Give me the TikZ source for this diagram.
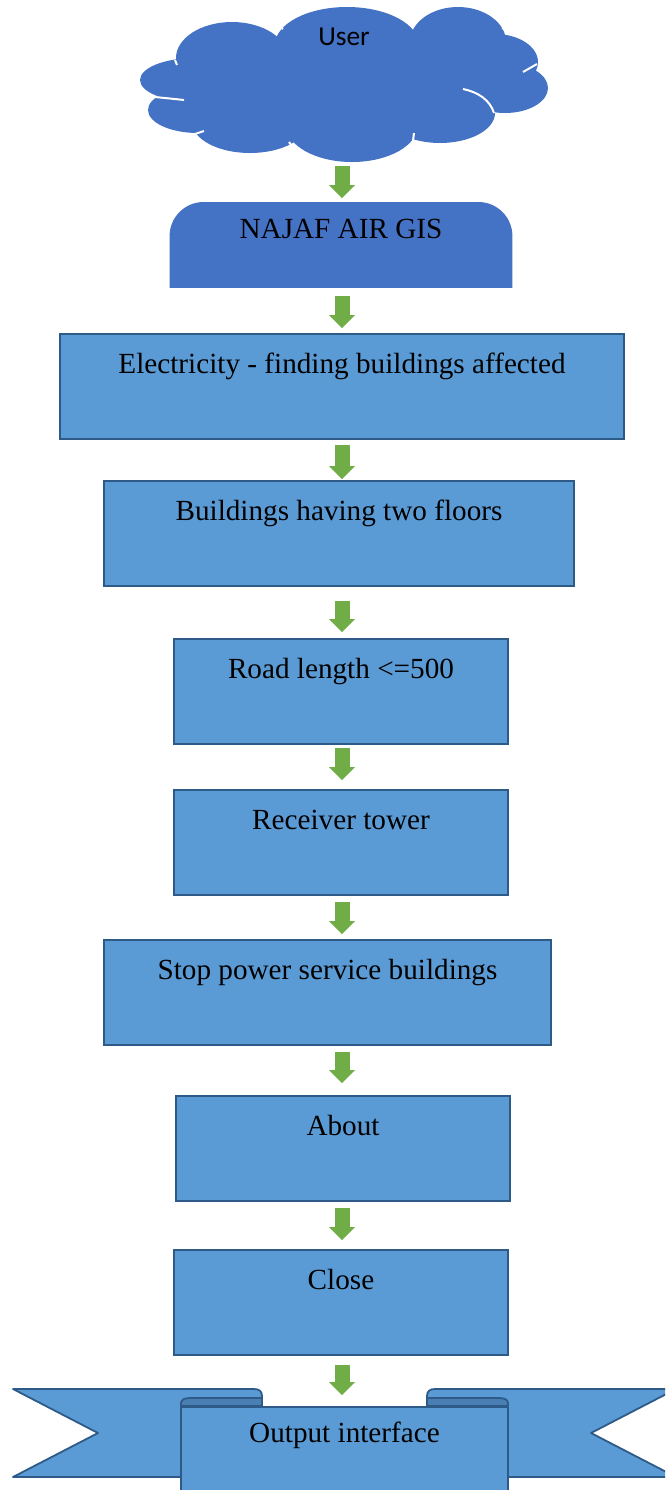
\documentclass[tikz,border=0pt]{standalone}
\usepackage{fontspec}
\setmainfont{Liberation Serif}
\newfontfamily\userfont{Carlito}
\usetikzlibrary{arrows.meta,backgrounds}

\definecolor{cloudblue}{HTML}{4472C4}
\definecolor{boxfill}{HTML}{5B9BD5}
\definecolor{boxline}{HTML}{2E5A88}
\definecolor{rollfill}{HTML}{4A7FB3}
\definecolor{arrowgreen}{HTML}{70AD47}

\tikzset{
  boxfont/.style={font=\fontsize{14.6}{17}\selectfont},
  stepbox/.style={boxfont, draw=boxline, fill=boxfill, line width=0.9pt,
    inner ysep=0pt, text height=20pt, text depth=32.5pt},
  flowarrow/.style={draw=arrowgreen, line width=7.5pt,
    -{Triangle[width=13pt,length=6.5pt,line width=0pt]}},
  flowlink/.style 2 args={flowarrow, shorten <=#1, shorten >=#2},
  cloudgap/.style={draw=white, line width=1pt},
  ribbon/.style={draw=boxline, fill=boxfill, line width=0.9pt, line join=round},
}

\begin{document}
\begin{tikzpicture}[x=0.5pt,y=-0.5pt]
  \useasboundingbox (0,0) rectangle (665,1490);
  \clip (0,0) rectangle (665,1490);
  \coordinate (axis) at (342,0);

  % cloud
  \fill[cloudblue] (345,85) ellipse [x radius=75pt, y radius=22.5pt];
  \fill[cloudblue] (232,58) ellipse [x radius=28pt, y radius=18pt];
  \fill[cloudblue] (347,45) ellipse [x radius=36pt, y radius=19pt];
  \fill[cloudblue] (458,42) ellipse [x radius=24pt, y radius=17.5pt];
  \fill[cloudblue] (495,62) ellipse [x radius=21.5pt, y radius=14pt];
  \fill[cloudblue] (505,88) ellipse [x radius=21.5pt, y radius=12.5pt];
  \fill[cloudblue] (440,113) ellipse [x radius=27.5pt, y radius=15pt];
  \fill[cloudblue] (352,125) ellipse [x radius=33pt, y radius=18.5pt];
  \fill[cloudblue] (250,122) ellipse [x radius=29pt, y radius=15.5pt];
  \fill[cloudblue] (198,110) ellipse [x radius=25pt, y radius=11.5pt];
  \fill[cloudblue] (195,80) ellipse [x radius=27.5pt, y radius=11pt];
  \draw[cloudgap] (155,97) .. controls (165,98) and (175,99) .. (184,100);
  \draw[cloudgap] (195,134) -- (204,131);
  \draw[cloudgap] (289,142) .. controls (291,145) and (293,148) .. (297,151);
  \draw[cloudgap] (414,133) -- (413,141);
  \draw[cloudgap] (463,89) .. controls (478,92) and (490,100) .. (494,113);
  \draw[cloudgap] (523,72) -- (537,64);
  \draw[cloudgap] (502,28) -- (509,30);
  \draw[cloudgap] (414,15) -- (419,20);
  \draw[cloudgap] (276,24) -- (283,29);
  \draw[cloudgap] (175,60) -- (177,65);
  \node[font=\userfont\fontsize{13.7}{16}\selectfont, inner ysep=0pt,
        minimum width=204pt, text height=19pt, text depth=58.5pt,
        anchor=north] (user) at (344,7) {User};

  % top tab
  \node[boxfont, inner ysep=0pt, minimum width=171pt, text height=18pt,
        text depth=24.5pt, anchor=north] (najaf) at (341,202) {NAJAF AIR GIS};
  \begin{pgfonlayer}{background}
    \fill[cloudblue] (najaf.south west) -- ([yshift=-17pt]najaf.north west)
      arc[start angle=180, end angle=90, radius=17pt]
      -- ([xshift=-17pt]najaf.north east)
      arc[start angle=90, end angle=0, radius=17pt]
      -- (najaf.south east) -- cycle;
  \end{pgfonlayer}

  % steps
  \node[stepbox, minimum width=282pt, anchor=north] (elec) at (342,333) {Electricity - finding buildings affected};
  \node[stepbox, minimum width=235pt, anchor=north] (floors) at (339,480) {Buildings having two floors};
  \node[stepbox, minimum width=167pt, anchor=north] (road) at (341,638) {Road length <=500};
  \node[stepbox, minimum width=167pt, anchor=north] (tower) at (341,789) {Receiver tower};
  \node[stepbox, minimum width=223.5pt, anchor=north] (stop) at (327.5,939) {Stop power service buildings};
  \node[stepbox, minimum width=167pt, anchor=north] (about) at (343,1095) {About};
  \node[stepbox, minimum width=167pt, anchor=north] (close) at (341,1249) {Close};

  % ribbon at the bottom
  \draw[ribbon] (13,1389) -- (254,1389) .. controls (259,1389) and (262,1391) .. (262,1396)
    -- (262,1477) -- (13,1477) -- (98,1433) -- cycle;
  \draw[ribbon] (676,1389) -- (435,1389) .. controls (430,1389) and (427,1391) .. (427,1396)
    -- (427,1477) -- (676,1477) -- (591,1433) -- cycle;
  \draw[ribbon, fill=rollfill] (181,1406) -- (181,1403) .. controls (181,1399.5) and (185,1398) .. (190,1398)
    -- (262,1398) -- (262,1406) -- cycle;
  \draw[ribbon, fill=rollfill] (508,1406) -- (508,1403) .. controls (508,1399.5) and (504,1398) .. (499,1398)
    -- (427,1398) -- (427,1406) -- cycle;
  \node[ribbon, boxfont, inner ysep=0pt, minimum width=163.5pt, text height=18pt,
        text depth=40pt, anchor=north] (output) at (344.5,1406) {Output interface};

  % arrows
  \draw[flowlink={1.5pt}{2pt}] (user.south -| axis) -- (najaf.north -| axis);
  \draw[flowlink={4pt}{2.5pt}] (najaf.south -| axis) -- (elec.north -| axis);
  \draw[flowlink={2.5pt}{0.5pt}] (elec.south -| axis) -- (floors.north -| axis);
  \draw[flowlink={7pt}{3pt}] (floors.south -| axis) -- (road.north -| axis);
  \draw[flowlink={1.5pt}{4.5pt}] (road.south -| axis) -- (tower.north -| axis);
  \draw[flowlink={3pt}{2.5pt}] (tower.south -| axis) -- (stop.north -| axis);
  \draw[flowlink={3pt}{6pt}] (stop.south -| axis) -- (about.north -| axis);
  \draw[flowlink={3pt}{4.5pt}] (about.south -| axis) -- (close.north -| axis);
  \draw[flowlink={4.5pt}{5.5pt}] (close.south -| axis) -- (output.north -| axis);
\end{tikzpicture}
\end{document}
